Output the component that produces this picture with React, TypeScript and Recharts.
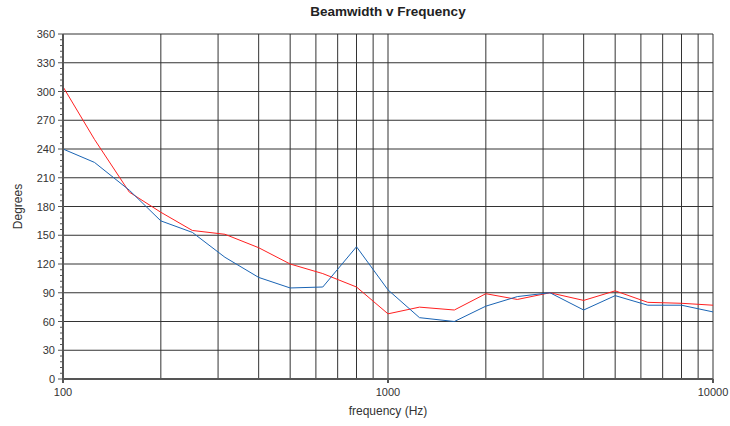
import React from "react";
import { LineChart, Line, XAxis, YAxis, ReferenceLine, Label } from "recharts";

const frequencies = [100, 125, 160, 200, 250, 315, 400, 500, 630, 800, 1000, 1250, 1600, 2000, 2500, 3150, 4000, 5000, 6300, 8000, 10000];
const redSeries = [305, 250, 195, 174, 155, 151, 137, 120, 110, 96, 68, 75, 72, 89, 83, 90, 82, 92, 80, 79, 77];
const blueSeries = [240, 226, 197, 165, 153, 127, 106, 95, 96, 138, 93, 64, 60, 76, 86, 90, 72, 87, 77, 77, 70];
const xTickLabels = [100, 1000, 10000];
const yTicks = [0, 30, 60, 90, 120, 150, 180, 210, 240, 270, 300, 330, 360];
const yMinorTicks = Array.from({ length: 61 }, (_, i) => i * 6);
const xGridLines = [200, 300, 400, 500, 600, 700, 800, 900, 1000, 2000, 3000, 4000, 5000, 6000, 7000, 8000, 9000, 10000];

const data = frequencies.map((f, i) => ({ f, red: redSeries[i], blue: blueSeries[i] }));

const FONT = "'Liberation Sans', Arial, sans-serif";

const YTick = (props: any) => {
  const { x, y, payload } = props;
  const v = payload.value;
  const major = v % 30 === 0;
  return (
    <g>
      <line x1={x - (major ? 5 : 3)} x2={x} y1={y} y2={y} stroke="#555" strokeWidth={1} />
      {major && (
        <text x={x - 8} y={y} dy={4} textAnchor="end" fontSize={11} fill="#333" fontFamily={FONT}>
          {v}
        </text>
      )}
    </g>
  );
};

export default function App() {
  return (
    <div style={{ position: "absolute", left: 0, top: 0, width: 730, height: 426, background: "#fff", fontFamily: FONT }}>
      <div style={{ position: "absolute", left: 0, width: 776, top: 4, textAlign: "center", fontSize: 13.5, fontWeight: "bold", color: "#222" }}>
        Beamwidth v Frequency
      </div>
      <LineChart width={730} height={426} data={data} margin={{ top: 34, right: 17, left: 0, bottom: 0 }}>
        {yTicks.map((v) => (
          <ReferenceLine key={"h" + v} y={v} xAxisId="x" yAxisId="y" stroke="#333" strokeWidth={1} />
        ))}
        {xGridLines.map((v) => (
          <ReferenceLine key={"v" + v} x={v} xAxisId="x" yAxisId="y" stroke="#333" strokeWidth={1} />
        ))}
        <XAxis
          xAxisId="x"
          dataKey="f"
          type="number"
          scale="log"
          domain={[100, 10000]}
          ticks={xTickLabels}
          allowDataOverflow
          height={47}
          tickSize={4}
          tickMargin={5}
          stroke="#555"
          strokeWidth={2}
          tick={{ fill: "#333", fontSize: 11, fontFamily: FONT }}
        >
          <Label
            content={({ viewBox }: any) => (
              <text x={viewBox.x + viewBox.width / 2} y={415} textAnchor="middle" fontSize={12} fill="#333" fontFamily={FONT}>
                frequency (Hz)
              </text>
            )}
          />
        </XAxis>
        <YAxis
          yAxisId="y"
          type="number"
          domain={[0, 360]}
          ticks={yMinorTicks}
          interval={0}
          width={63}
          tickSize={0}
          tickMargin={0}
          tickLine={false}
          stroke="#555"
          strokeWidth={2}
          tick={<YTick />}
        >
          <Label
            content={({ viewBox }: any) => (
              <text
                x={22}
                y={viewBox.y + viewBox.height / 2}
                textAnchor="middle"
                fontSize={12}
                fill="#333"
                fontFamily={FONT}
                transform={`rotate(-90, 22, ${viewBox.y + viewBox.height / 2})`}
              >
                Degrees
              </text>
            )}
          />
        </YAxis>
        <Line xAxisId="x" yAxisId="y" dataKey="red" stroke="#ff2020" strokeWidth={1} dot={false} isAnimationActive={false} />
        <Line xAxisId="x" yAxisId="y" dataKey="blue" stroke="#1a64b4" strokeWidth={1} dot={false} isAnimationActive={false} />
      </LineChart>
    </div>
  );
}
